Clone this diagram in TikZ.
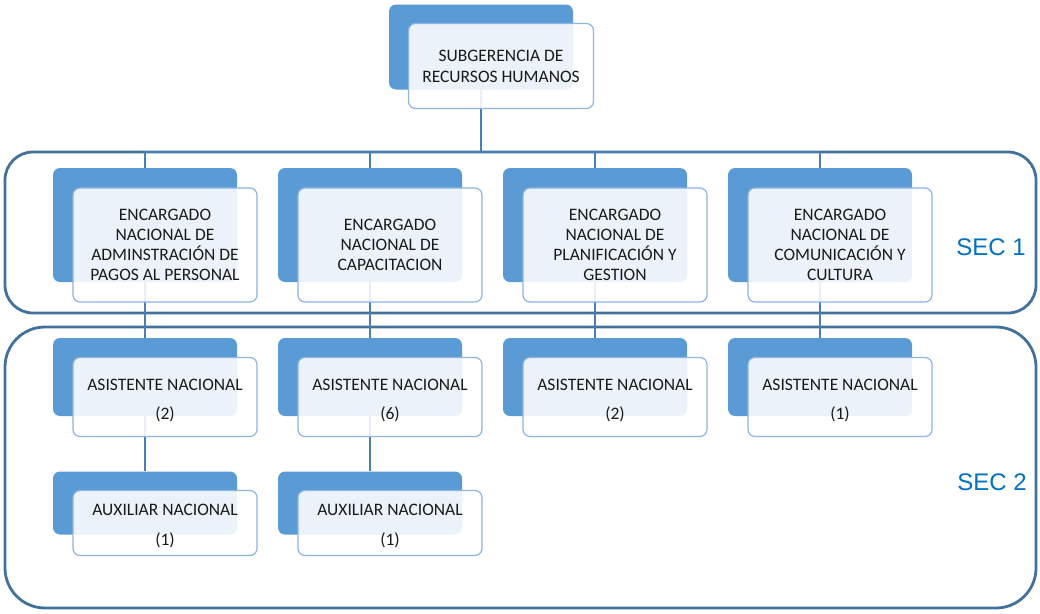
\documentclass[tikz,border=0pt]{standalone}
\usepackage{fontspec}
\setmainfont{Carlito}
\newfontfamily\secfont{Liberation Sans}
\definecolor{backblue}{HTML}{5B9BD5}
\definecolor{frontedge}{HTML}{8DB4E2}
\definecolor{framecol}{HTML}{41719C}
\definecolor{linkcol}{HTML}{4A7EBB}
\definecolor{seccol}{HTML}{0070C0}
\definecolor{txt}{HTML}{1A1A1A}
\pgfdeclarelayer{bg}
\pgfdeclarelayer{links}
\pgfsetlayers{bg,links,main}
\newcommand{\tallstrut}{\rule{0pt}{18pt}}
\begin{document}
\begin{tikzpicture}[x=1pt,y=-1pt,
  backbox/.style={fill=backblue, rounded corners=7pt, minimum width=184pt, inner sep=0pt},
  frontbox/.style={draw=frontedge, line width=1.2pt, fill=white, fill opacity=0.88,
    text opacity=1, rounded corners=7pt, minimum width=184pt, inner sep=0pt,
    align=center, font=\fontsize{17.5}{20}\selectfont, text=txt},
  link/.style={draw=linkcol, line width=1.2pt},
  frame/.style={draw=framecol, line width=2.8pt},
  seclabel/.style={font=\secfont\fontsize{24}{28}\selectfont, text=seccol}]
\useasboundingbox (0,0) rectangle (1040,613);

% section frames
\begin{pgfonlayer}{bg}
\draw[frame, rounded corners=28pt] (5,152) rectangle (1036,313);
\draw[frame, rounded corners=40pt] (5,327) rectangle (1036,608);
\end{pgfonlayer}

% shadow (back) boxes
\node[backbox, minimum height=85pt]  (b0) at (481,47) {};
\node[backbox, minimum height=114pt] (b1) at (145,225) {};
\node[backbox, minimum height=114pt] (b2) at (370,225) {};
\node[backbox, minimum height=114pt] (b3) at (595,225) {};
\node[backbox, minimum height=114pt] (b4) at (820,225) {};
\node[backbox, minimum height=78pt]  (c1) at (145,377) {};
\node[backbox, minimum height=78pt]  (c2) at (370,377) {};
\node[backbox, minimum height=78pt]  (c3) at (595,377) {};
\node[backbox, minimum height=78pt]  (c4) at (820,377) {};
\node[backbox, minimum height=63pt]  (d1) at (145,503) {};
\node[backbox, minimum height=63pt]  (d2) at (370,503) {};

% front boxes with the texts
\node[frontbox, minimum width=185pt, minimum height=85pt,
  font=\fontsize{17.5}{21}\selectfont] (f0) at (501,66)
  {SUBGERENCIA DE\\RECURSOS HUMANOS};
\node[frontbox, minimum height=114pt] (e1) at (165,245)
  {ENCARGADO\\NACIONAL DE\\ADMINSTRACIÓN DE\\PAGOS AL PERSONAL};
\node[frontbox, minimum height=114pt] (e2) at (390,245)
  {ENCARGADO\\NACIONAL DE\\CAPACITACION};
\node[frontbox, minimum height=114pt] (e3) at (615,245)
  {ENCARGADO\\NACIONAL DE\\PLANIFICACIÓN Y\\GESTION};
\node[frontbox, minimum height=114pt] (e4) at (840,245)
  {ENCARGADO\\NACIONAL DE\\COMUNICACIÓN Y\\CULTURA};
\node[frontbox, minimum height=79pt] (a1) at (165,397) {\tallstrut ASISTENTE NACIONAL\\[9pt](2)};
\node[frontbox, minimum height=79pt] (a2) at (390,397) {\tallstrut ASISTENTE NACIONAL\\[9pt](6)};
\node[frontbox, minimum height=79pt] (a3) at (615,397) {\tallstrut ASISTENTE NACIONAL\\[9pt](2)};
\node[frontbox, minimum height=79pt] (a4) at (840,397) {\tallstrut ASISTENTE NACIONAL\\[9pt](1)};
\node[frontbox, minimum height=65pt] (x1) at (165,523) {\tallstrut AUXILIAR NACIONAL\\[10pt](1)};
\node[frontbox, minimum height=65pt] (x2) at (390,523) {\tallstrut AUXILIAR NACIONAL\\[10pt](1)};

% section labels
\node[seclabel] (s1) at (991,247) {SEC 1};
\node[seclabel] (s2) at (992,482) {SEC 2};

% connectors
\coordinate (j0) at (481,152);
\begin{pgfonlayer}{links}
\draw[link] (b0.south) -- (j0);
\draw[link] (b1.north |- j0) -- (b4.north |- j0);
\foreach \i in {1,2,3,4}{
  \draw[link] (b\i.north |- j0) -- (b\i.north);
  \draw[link] (b\i.south) -- (c\i.north);
}
\draw[link] (c1.south) -- (d1.north);
\draw[link] (c2.south) -- (d2.north);
\end{pgfonlayer}
\end{tikzpicture}
\end{document}
